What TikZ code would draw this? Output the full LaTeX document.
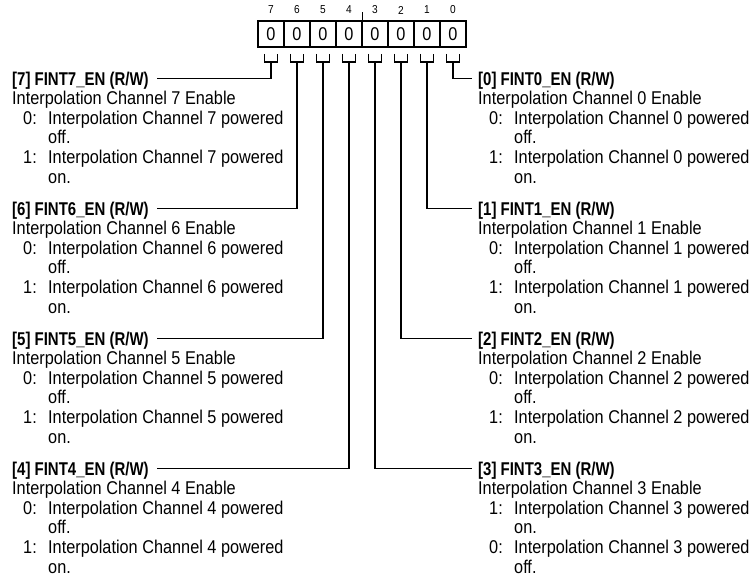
\documentclass[tikz,border=0pt]{standalone}
\usepackage{fontspec}
\setmainfont{Liberation Sans}[FakeStretch=0.88]
\newfontfamily\hdrfont{Liberation Sans}[FakeStretch=0.81]
\usetikzlibrary{calc}
\tikzset{
  cell/.style={draw, line width=1.6pt, minimum width=26pt, minimum height=26pt, inner sep=0pt,
    font=\fontsize{18.5}{19.6}\selectfont},
  bitnum/.style={inner sep=0pt, font=\fontsize{11.5}{12}\selectfont},
  conn/.style={draw, line width=1.7pt},
  hdr/.style={anchor=base west, inner sep=0pt, text height=13pt, text depth=0pt,
    font=\hdrfont\bfseries\fontsize{18.5}{19.6}\selectfont},
  txt/.style={anchor=base west, inner sep=0pt, font=\fontsize{18.5}{19.6}\selectfont}
}
\newcommand\fieldtext[7]{%
  \node[hdr] (h#1) at (#2,#3) {[#1] FINT#1\_EN (R/W)};
  \node[txt] (d#1) at (#2,{#3+19.6}) {Interpolation Channel #1 Enable};
  \node[txt] (ka#1) at ({#2+11},{#3+39.2}) {#4:};
  \node[txt] (va#1) at ({#2+36},{#3+39.2}) {Interpolation Channel #1 powered};
  \node[txt] (wa#1) at ({#2+36},{#3+58.8}) {#5.};
  \node[txt] (kb#1) at ({#2+11},{#3+78.4}) {#6:};
  \node[txt] (vb#1) at ({#2+36},{#3+78.4}) {Interpolation Channel #1 powered};
  \node[txt] (wb#1) at ({#2+36},{#3+98}) {#7.};
}
\begin{document}
\begin{tikzpicture}[x=1pt,y=-1pt]
\useasboundingbox (0,0) rectangle (756,582);
% register cells, bit numbers and brackets
\foreach \b in {0,...,7}{
  \node[cell] (c\b) at ({271+26*(7-\b)},34) {0};
  \node[bitnum] (n\b) at ({271+26*(7-\b)},10) {\b};
  \coordinate (s\b) at ($(c\b.south)+(0,14)$);
  \draw[line width=1.6pt] ($(c\b.south)+(-6.5,6)$) |- (s\b) -| ($(c\b.south)+(6.5,6)$);
}
\draw[line width=1.2pt] (c4.north east) -- ++(0,-8);
% field descriptions
\fieldtext{7}{12}{85}{0}{off}{1}{on}
\fieldtext{6}{12}{215}{0}{off}{1}{on}
\fieldtext{5}{12}{345}{0}{off}{1}{on}
\fieldtext{4}{12}{475}{0}{off}{1}{on}
\fieldtext{0}{478}{85}{0}{off}{1}{on}
\fieldtext{1}{478}{215}{0}{off}{1}{on}
\fieldtext{2}{478}{345}{0}{off}{1}{on}
\fieldtext{3}{478}{475}{1}{on}{0}{off}
% connectors
\foreach \b in {7,6,5,4}{
  \draw[conn] (s\b) |- ([xshift=8pt]h\b.east);
}
\foreach \b in {0,1,2,3}{
  \draw[conn] (s\b) |- ([xshift=-6pt]h\b.west);
}
\end{tikzpicture}
\end{document}
